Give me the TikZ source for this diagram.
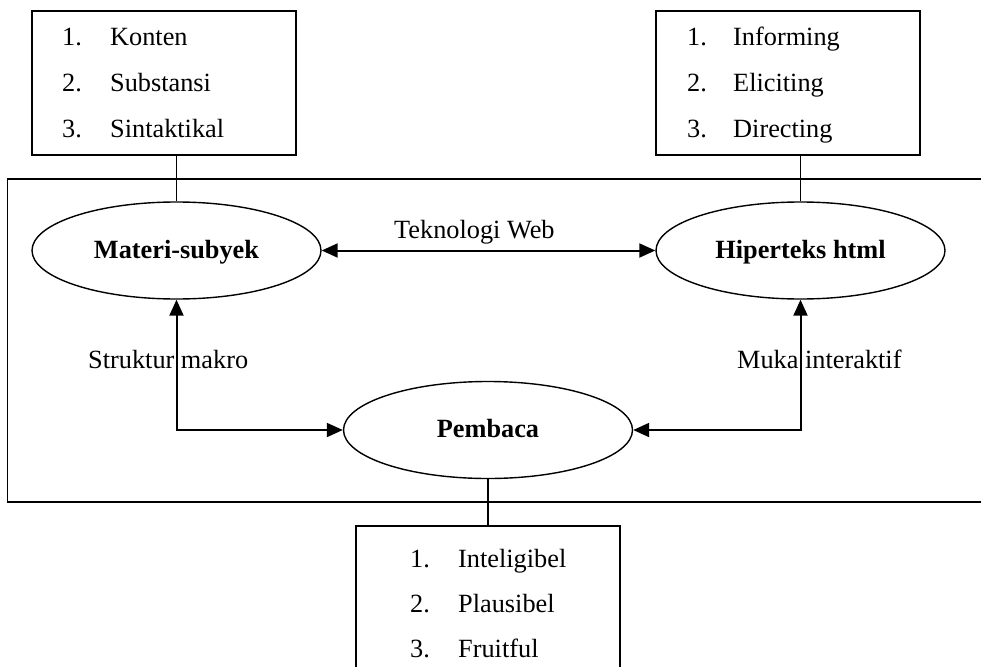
\documentclass[tikz,border=0pt]{standalone}
\usepackage{fontspec}
\setmainfont{Liberation Serif}
\usetikzlibrary{shapes.geometric,arrows.meta}
\begin{document}
\begin{tikzpicture}[x=1pt,y=-1pt,
  every node/.style={font=\fontsize{26.3}{30}\selectfont},
  listbox/.style={draw,line width=1.6pt,rectangle,minimum width=264pt,inner sep=0pt},
  oval/.style={draw,line width=1.4pt,ellipse,minimum width=289pt,minimum height=97pt,inner sep=0pt,font=\fontsize{26.3}{30}\selectfont\bfseries,text height=18pt,text depth=3pt},
  item/.style={anchor=base west,inner sep=0pt},
  lbl/.style={anchor=base west,inner sep=0pt},
  link/.style={line width=1.6pt},
  biarrow/.style={line width=2pt,{Triangle[length=16pt,width=14pt]}-{Triangle[length=16pt,width=14pt]}}
]
\useasboundingbox (0,0) rectangle (981,666);
\clip (0,0) rectangle (981,666);
% frame
\node[draw,line width=1.6pt,rectangle,minimum width=1000pt,minimum height=323pt,inner sep=0pt] (frame) at (507.3,340.5) {};
% boxes
\node[listbox,minimum height=144pt] (tl) at (164,83) {};
\node[listbox,minimum height=144pt] (tr) at (788,83) {};
\node[listbox,minimum height=180pt] (bt) at (488,616) {};
% list texts
\node[item] (tl1) at (62,46) {1.};
\node[item] (tl1t) at (110,46) {Konten};
\node[item] (tl2) at (62,92) {2.};
\node[item] (tl2t) at (110,92) {Substansi};
\node[item] (tl3) at (62,137) {3.};
\node[item] (tl3t) at (110,137) {Sintaktikal};
\node[item] (tr1) at (687,46) {1.};
\node[item] (tr1t) at (733,46) {Informing};
\node[item] (tr2) at (687,92) {2.};
\node[item] (tr2t) at (733,92) {Eliciting};
\node[item] (tr3) at (687,137) {3.};
\node[item] (tr3t) at (733,137) {Directing};
\node[item] (bt1) at (410,567) {1.};
\node[item] (bt1t) at (458,567) {Inteligibel};
\node[item] (bt2) at (410,612) {2.};
\node[item] (bt2t) at (458,612) {Plausibel};
\node[item] (bt3) at (410,657) {3.};
\node[item] (bt3t) at (458,657) {Fruitful};
% ellipses
\node[oval] (ms) at (176.5,250.5) {Materi-subyek};
\node[oval] (ht) at (800.5,250.5) {Hiperteks html};
\node[oval] (pb) at (488,430) {Pembaca};
% connectors
\draw[link] (ms.north |- tl.south) -- (ms.north);
\draw[link] (ht.north |- tr.south) -- (ht.north);
\draw[link] (pb.south) -- (bt.north);
\draw[biarrow] (ms.east) -- (ht.west);
\draw[biarrow] (ms.south) |- (pb.west);
\draw[biarrow] (ht.south) |- (pb.east);
% labels
\node[lbl] (l1) at (394,238) {Teknologi Web};
\node[lbl] (l2) at (88,368) {Struktur makro};
\node[lbl] (l3) at (737,368) {Muka interaktif};
\end{tikzpicture}
\end{document}
